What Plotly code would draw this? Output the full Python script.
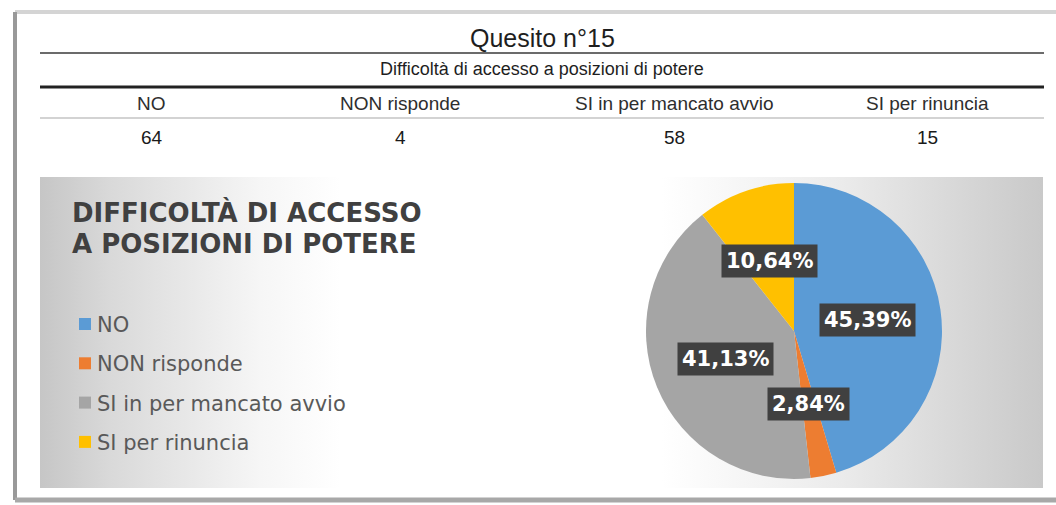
import math
import plotly.graph_objects as go

# ---- data -------------------------------------------------------------
question_title = "Quesito n°15"
question_text = "Difficoltà di accesso a posizioni di potere"
chart_title_lines = ["DIFFICOLTÀ DI ACCESSO", "A POSIZIONI DI POTERE"]
categories = ["NO", "NON risponde", "SI in per mancato avvio", "SI per rinuncia"]
counts = [64, 4, 58, 15]
slice_colors = ["#5B9BD5", "#ED7D31", "#A5A5A5", "#FFC000"]

# ---- canvas / layout constants (pixel space) -----------------------------
W, H = 1056, 505
TABLE_X0, TABLE_X1 = 40, 1044
COL_EDGES = [40, 263, 537, 811, 1044]
PANEL = dict(x0=40, y0=177, x1=1043, y1=488)
PIE_CX, PIE_CY, PIE_R = 794, 331, 148
LABEL_RADIUS = 0.5
TABLE_FONT = "Liberation Sans, Arial, sans-serif"
CHART_FONT = "DejaVu Sans, Verdana, sans-serif"

total = sum(counts)
pct_text = [f"{100 * v / total:.2f}".replace(".", ",") + "%" for v in counts]

fig = go.Figure()

# gradient background of the chart panel
fig.add_trace(go.Scatter(
    x=[PANEL["x0"], PANEL["x1"], PANEL["x1"], PANEL["x0"], PANEL["x0"]],
    y=[PANEL["y0"], PANEL["y0"], PANEL["y1"], PANEL["y1"], PANEL["y0"]],
    mode="lines", line=dict(width=0), fill="toself",
    fillgradient=dict(
        type="horizontal",
        colorscale=[[0.0, "#c6c6c6"], [0.07, "#d9d9d9"], [0.22, "#f6f6f6"],
                    [0.30, "#ffffff"], [0.62, "#ffffff"], [0.80, "#ebebeb"],
                    [1.0, "#c9c9c9"]],
    ),
    hoverinfo="skip", showlegend=False,
))

# pie
fig.add_trace(go.Pie(
    labels=categories, values=counts, sort=False, direction="clockwise",
    rotation=0, marker=dict(colors=slice_colors, line=dict(width=0)),
    textinfo="none", showlegend=False,
    domain=dict(x=[(PIE_CX - PIE_R) / W, (PIE_CX + PIE_R) / W],
                y=[(H - PIE_CY - PIE_R) / H, (H - PIE_CY + PIE_R) / H]),
))

shapes = []
annotations = []

# page frame with shadow edges
shapes += [
    dict(type="line", x0=15, x1=W, y0=12, y1=12, line=dict(color="#d4d4d4", width=4)),
    dict(type="line", x0=15, x1=15, y0=12, y1=500, line=dict(color="#999999", width=4)),
    dict(type="line", x0=15, x1=W, y0=500, y1=500, line=dict(color="#a8a8a8", width=5)),
]

# table rules
shapes += [
    dict(type="line", x0=TABLE_X0, x1=TABLE_X1, y0=53, y1=53, line=dict(color="#3a3a3a", width=1.5)),
    dict(type="line", x0=TABLE_X0, x1=TABLE_X1, y0=87, y1=87, line=dict(color="#222222", width=3)),
    dict(type="line", x0=TABLE_X0, x1=TABLE_X1, y0=118, y1=118, line=dict(color="#c4c4c4", width=1.5)),
]

annotations.append(dict(x=(TABLE_X0 + TABLE_X1) / 2, y=38, text=question_title,
                        showarrow=False, font=dict(family=TABLE_FONT, size=25, color="#1e1e1e")))
annotations.append(dict(x=(TABLE_X0 + TABLE_X1) / 2, y=69, text=question_text,
                        showarrow=False, font=dict(family=TABLE_FONT, size=18, color="#1e1e1e")))
for i, (cat, val) in enumerate(zip(categories, counts)):
    cx = (COL_EDGES[i] + COL_EDGES[i + 1]) / 2
    annotations.append(dict(x=cx, y=103, text=cat, showarrow=False,
                            font=dict(family=TABLE_FONT, size=19, color="#2e2e2e")))
    annotations.append(dict(x=cx, y=137, text=str(val), showarrow=False,
                            font=dict(family=TABLE_FONT, size=19, color="#1a1a1a")))

# chart title
for line_text, yc in zip(chart_title_lines, [212, 244]):
    annotations.append(dict(x=70, y=yc, text=line_text, showarrow=False, xanchor="left",
                            font=dict(family=CHART_FONT, size=26, color="#404040", weight="bold")))

# legend backdrop and entries
shapes.append(dict(type="rect", x0=68, x1=268, y0=305, y1=460, layer="below",
                   fillcolor="rgba(255,255,255,0.4)", line=dict(width=0)))
for i, (cat, col) in enumerate(zip(categories, slice_colors)):
    yc = 324 + i * 39.3
    shapes.append(dict(type="rect", x0=79, x1=91, y0=yc - 6, y1=yc + 6,
                       fillcolor=col, line=dict(width=0)))
    annotations.append(dict(x=95, y=yc + 1, text=cat, showarrow=False, xanchor="left",
                            font=dict(family=CHART_FONT, size=21, color="#595959")))

# percentage labels placed at each slice's mid angle
cum = 0.0
for v, txt in zip(counts, pct_text):
    mid = (cum + v / 2) / total * 2 * math.pi
    cum += v
    lx = PIE_CX + LABEL_RADIUS * PIE_R * math.sin(mid)
    ly = PIE_CY - LABEL_RADIUS * PIE_R * math.cos(mid)
    annotations.append(dict(x=lx, y=ly, text=txt, showarrow=False,
                            bgcolor="#404040", borderpad=4,
                            font=dict(family=CHART_FONT, size=21, color="#ffffff", weight="bold")))

fig.update_layout(
    width=W, height=H, margin=dict(l=0, r=0, t=0, b=0),
    paper_bgcolor="#ffffff", plot_bgcolor="#ffffff",
    xaxis=dict(range=[0, W], visible=False, fixedrange=True),
    yaxis=dict(range=[H, 0], visible=False, fixedrange=True),
    shapes=shapes, annotations=annotations, showlegend=False,
)

fig.write_html("out.html")
